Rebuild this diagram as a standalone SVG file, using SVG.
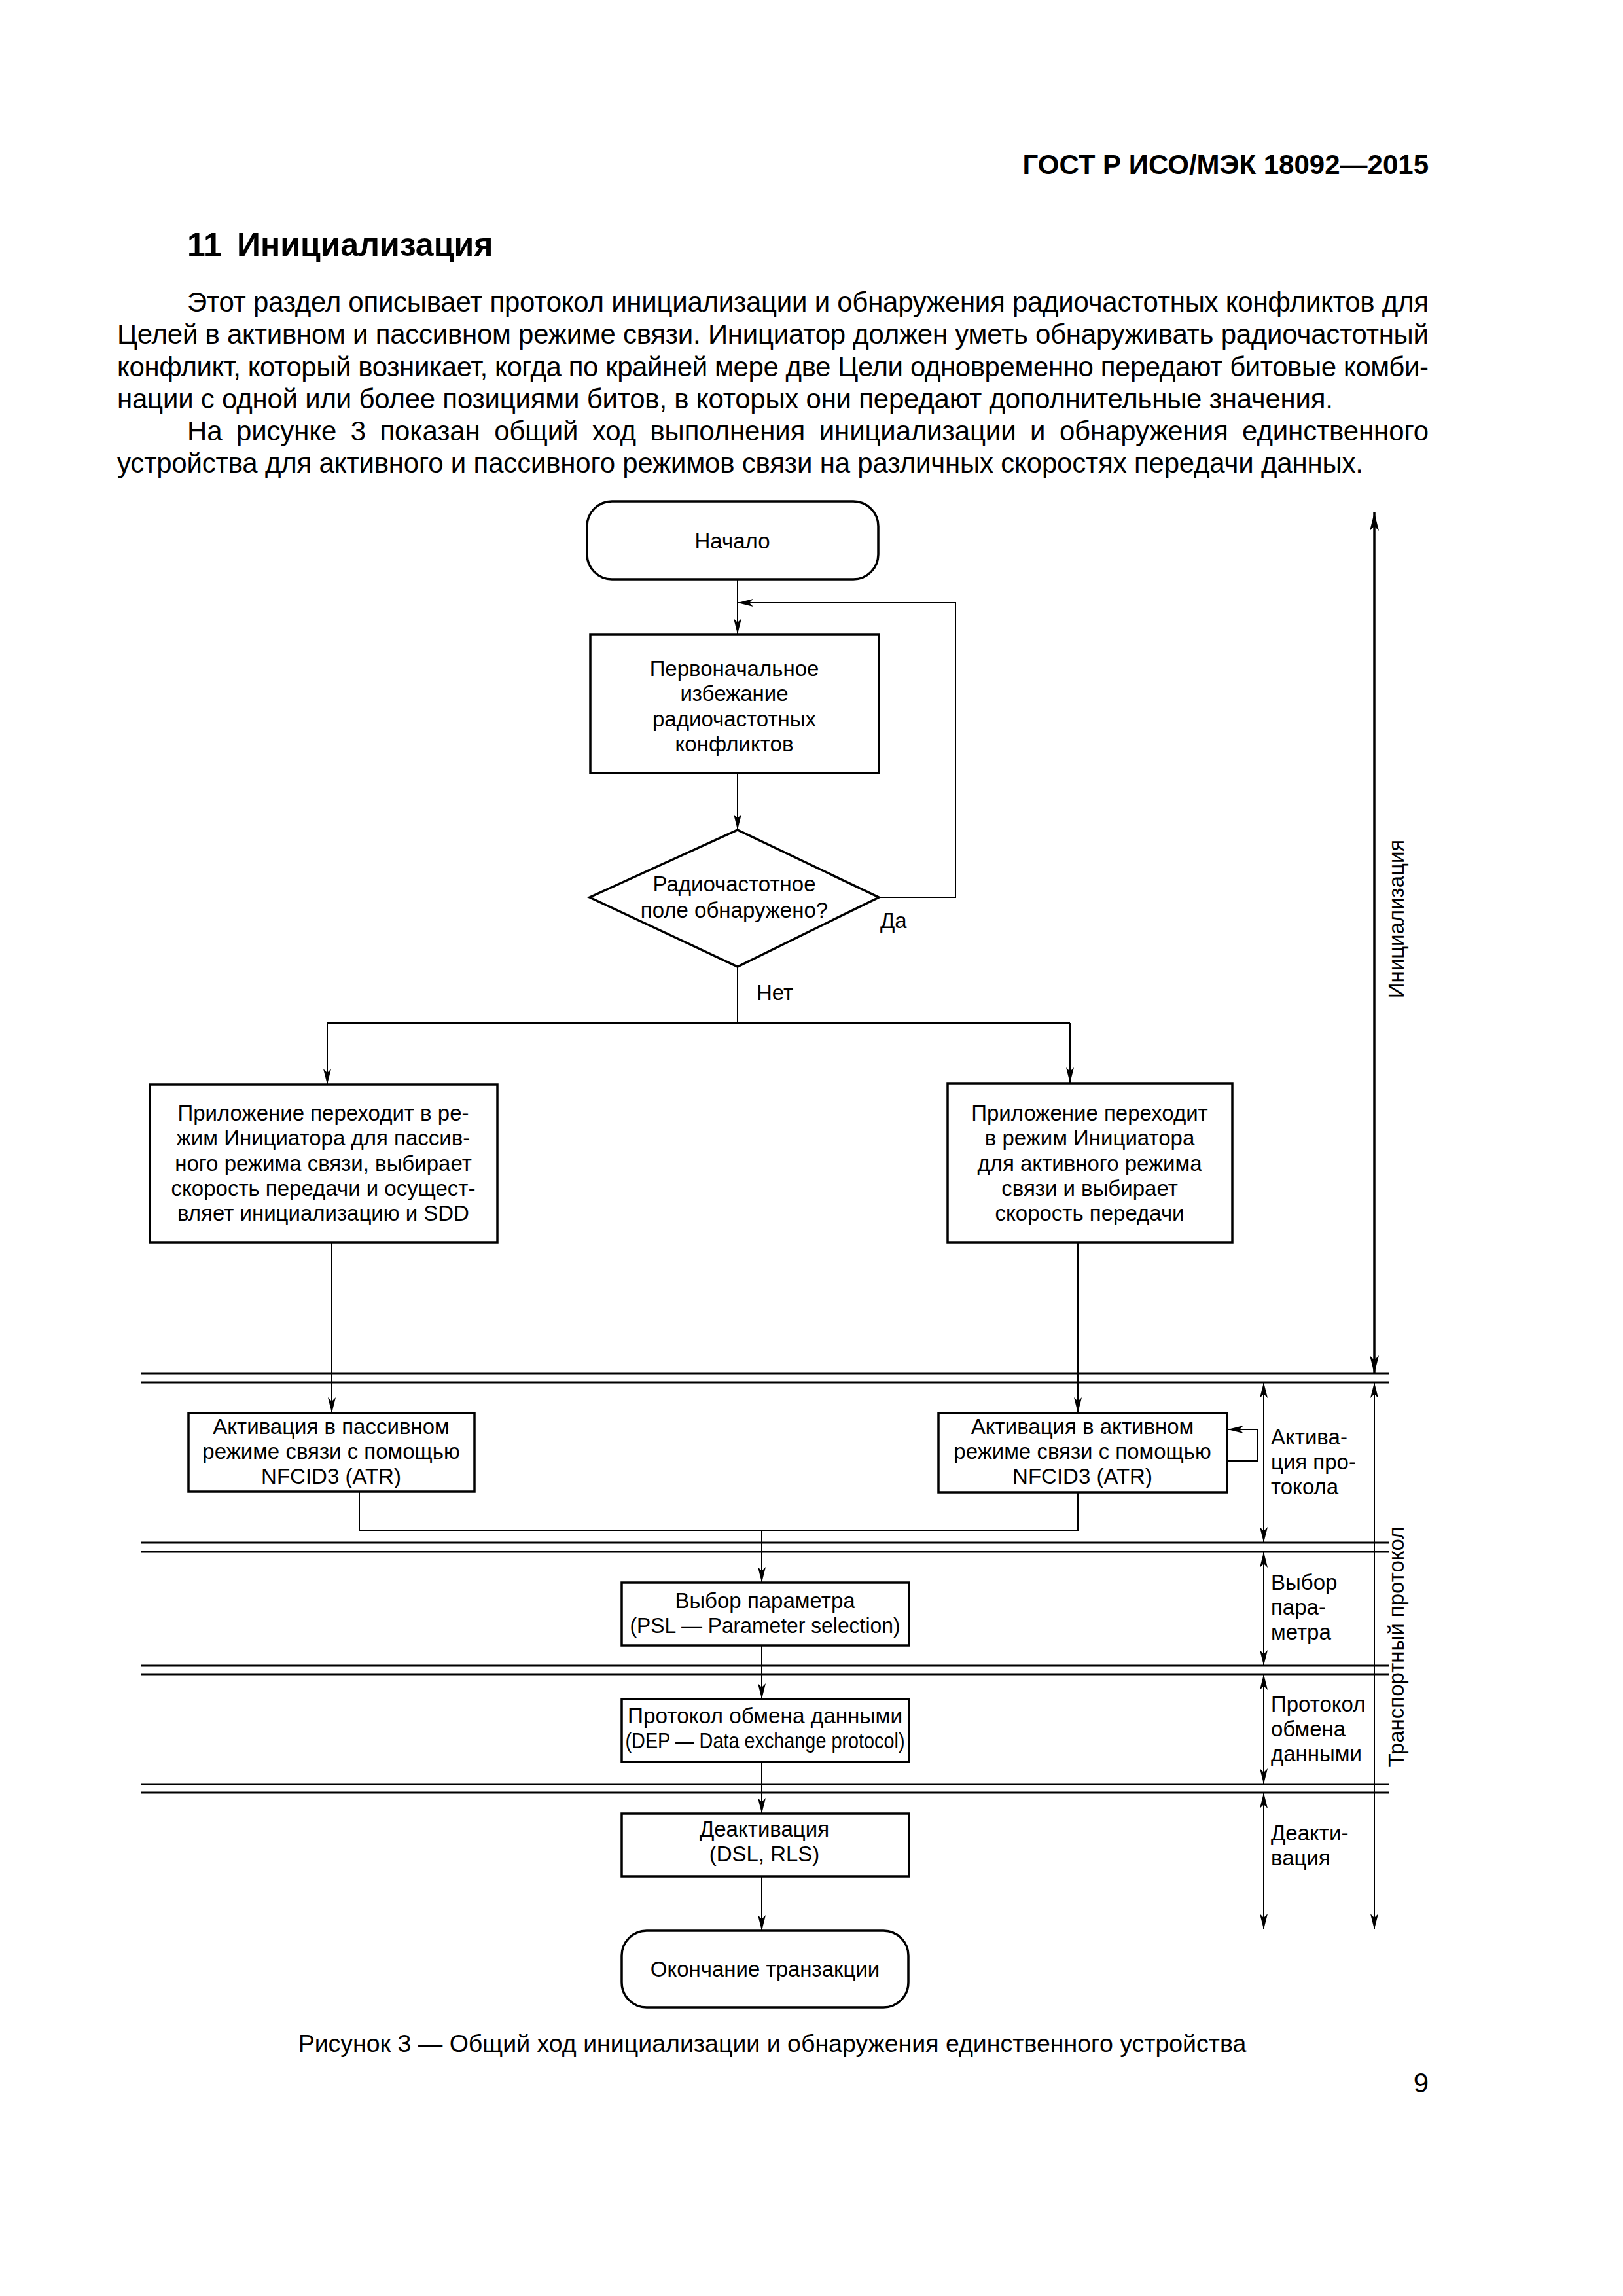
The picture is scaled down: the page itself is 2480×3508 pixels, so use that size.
<svg xmlns="http://www.w3.org/2000/svg" width="2480" height="3508" viewBox="0 0 2480 3508">
<style>
text{font-family:"Liberation Sans",Arial,sans-serif;fill:#000}
.body{font-size:42px}
.cap{font-size:37.5px;text-anchor:middle}
.hdr{font-size:42px;font-weight:bold}
.h1{font-size:50px;font-weight:bold}
.t{font-size:33px;text-anchor:middle}
.lbl{font-size:33px}
.box{fill:#fff;stroke:#000;stroke-width:3.5}
.ln{fill:none;stroke:#000;stroke-width:2}
.sep{fill:none;stroke:#000;stroke-width:3}
.dim{fill:none;stroke:#000;stroke-width:2}
.dimb{fill:none;stroke:#000;stroke-width:3.5}
</style>
<defs>
<marker id="ah" viewBox="0 0 24 12" refX="24" refY="6" markerWidth="24" markerHeight="12" markerUnits="userSpaceOnUse" orient="auto-start-reverse">
<path d="M0,0 L24,6 L0,12 L6,6 z" fill="#000"/>
</marker>
<marker id="ahb" viewBox="0 0 28 14" refX="28" refY="7" markerWidth="28" markerHeight="14" markerUnits="userSpaceOnUse" orient="auto-start-reverse">
<path d="M0,0 L28,7 L0,14 L7,7 z" fill="#000"/>
</marker>
</defs>
<rect width="2480" height="3508" fill="#fff"/>

<g id="page-text">
<text class="hdr" x="2183" y="266" text-anchor="end">ГОСТ Р ИСО/МЭК 18092—2015</text>
<text class="h1" x="286" y="391">11<tspan x="362">Инициализация</tspan></text>
<text class="body" x="286" y="476" textLength="1897" lengthAdjust="spacing">Этот раздел описывает протокол инициализации и обнаружения радиочастотных конфликтов для</text>
<text class="body" x="179" y="525" textLength="2004" lengthAdjust="spacing">Целей в активном и пассивном режиме связи. Инициатор должен уметь обнаруживать радиочастотный</text>
<text class="body" x="179" y="575" textLength="2004" lengthAdjust="spacing">конфликт, который возникает, когда по крайней мере две Цели одновременно передают битовые комби-</text>
<text class="body" x="179" y="624" textLength="1858" lengthAdjust="spacing">нации с одной или более позициями битов, в которых они передают дополнительные значения.</text>
<text class="body" x="286" y="673" word-spacing="10" textLength="1897" lengthAdjust="spacing">На рисунке 3 показан общий ход выполнения инициализации и обнаружения единственного</text>
<text class="body" x="179" y="722" textLength="1904" lengthAdjust="spacing">устройства для активного и пассивного режимов связи на различных скоростях передачи данных.</text>
<text class="cap" x="1180" y="3135">Рисунок 3 — Общий ход инициализации и обнаружения единственного устройства</text>
<text class="body" x="2183" y="3197" text-anchor="end">9</text>
</g>

<g id="connectors">
<path class="ln" d="M1127,885 V969" marker-end="url(#ah)"/>
<path class="ln" d="M1127,1181 V1268" marker-end="url(#ah)"/>
<path class="ln" d="M1343,1371 H1460 V921 H1127" marker-end="url(#ah)"/>
<path class="ln" d="M1127,1477 V1563"/>
<path class="ln" d="M500,1563 H1635"/>
<path class="ln" d="M500,1563 V1657" marker-end="url(#ah)"/>
<path class="ln" d="M1635,1563 V1655" marker-end="url(#ah)"/>
<path class="ln" d="M507,1898 V2159" marker-end="url(#ah)"/>
<path class="ln" d="M1647,1898 V2159" marker-end="url(#ah)"/>
<path class="ln" d="M1875,2232 H1921 V2184 H1876" marker-end="url(#ah)"/>
<path class="ln" d="M549,2279 V2338 H1647 V2280"/>
<path class="ln" d="M1164,2338 V2418" marker-end="url(#ah)"/>
<path class="ln" d="M1164,2514 V2596" marker-end="url(#ah)"/>
<path class="ln" d="M1164,2692 V2771" marker-end="url(#ah)"/>
<path class="ln" d="M1164,2867 V2950" marker-end="url(#ah)"/>
</g>

<g id="separators">
<path class="sep" d="M215,2099 H2123 M215,2112 H2123"/>
<path class="sep" d="M215,2357 H2123 M215,2371 H2123"/>
<path class="sep" d="M215,2545 H2123 M215,2558 H2123"/>
<path class="sep" d="M215,2726 H2123 M215,2739 H2123"/>
</g>

<g id="dimensions">
<path class="dimb" d="M2100,783 V2099" marker-start="url(#ahb)" marker-end="url(#ahb)"/>
<path class="dim" d="M2100,2112 V2948" marker-start="url(#ah)" marker-end="url(#ah)"/>
<path class="dim" d="M1931,2112 V2357" marker-start="url(#ah)" marker-end="url(#ah)"/>
<path class="dim" d="M1931,2371 V2545" marker-start="url(#ah)" marker-end="url(#ah)"/>
<path class="dim" d="M1931,2558 V2726" marker-start="url(#ah)" marker-end="url(#ah)"/>
<path class="dim" d="M1931,2739 V2948" marker-start="url(#ah)" marker-end="url(#ah)"/>
<text class="t" transform="translate(2145,1404) rotate(-90)">Инициализация</text>
<text class="t" transform="translate(2145,2516) rotate(-90)">Транспортный протокол</text>
<text class="lbl" x="1942" y="2207">Актива-</text>
<text class="lbl" x="1942" y="2245">ция про-</text>
<text class="lbl" x="1942" y="2283">токола</text>
<text class="lbl" x="1942" y="2429">Выбор</text>
<text class="lbl" x="1942" y="2467">пара-</text>
<text class="lbl" x="1942" y="2505">метра</text>
<text class="lbl" x="1942" y="2615">Протокол</text>
<text class="lbl" x="1942" y="2653">обмена</text>
<text class="lbl" x="1942" y="2691">данными</text>
<text class="lbl" x="1942" y="2812">Деакти-</text>
<text class="lbl" x="1942" y="2850">вация</text>
</g>

<g id="start">
<rect class="box" x="897" y="766" width="445" height="119" rx="38"/>
<text class="t" x="1119" y="838">Начало</text>
</g>

<g id="avoid">
<rect class="box" x="902" y="969" width="441" height="212"/>
<text class="t" x="1122" y="1033">Первоначальное</text>
<text class="t" x="1122" y="1071">избежание</text>
<text class="t" x="1122" y="1110">радиочастотных</text>
<text class="t" x="1122" y="1148">конфликтов</text>
</g>

<g id="decision">
<polygon class="box" points="1127,1268 1343,1371 1127,1477 901,1371"/>
<text class="t" x="1122" y="1362">Радиочастотное</text>
<text class="t" x="1122" y="1402">поле обнаружено?</text>
<text class="lbl" x="1345" y="1418">Да</text>
<text class="lbl" x="1156" y="1528">Нет</text>
</g>

<g id="passive-init">
<rect class="box" x="229" y="1657" width="531" height="241"/>
<text class="t" x="494" y="1712">Приложение переходит в ре-</text>
<text class="t" x="494" y="1750">жим Инициатора для пассив-</text>
<text class="t" x="494" y="1789">ного режима связи, выбирает</text>
<text class="t" x="494" y="1827">скорость передачи и осущест-</text>
<text class="t" x="494" y="1865">вляет инициализацию и SDD</text>
</g>

<g id="active-init">
<rect class="box" x="1448" y="1655" width="435" height="243"/>
<text class="t" x="1665" y="1712">Приложение переходит</text>
<text class="t" x="1665" y="1750">в режим Инициатора</text>
<text class="t" x="1665" y="1789">для активного режима</text>
<text class="t" x="1665" y="1827">связи и выбирает</text>
<text class="t" x="1665" y="1865">скорость передачи</text>
</g>

<g id="passive-act">
<rect class="box" x="288" y="2159" width="437" height="120"/>
<text class="t" x="506" y="2191">Активация в пассивном</text>
<text class="t" x="506" y="2229">режиме связи с помощью</text>
<text class="t" x="506" y="2267">NFCID3 (ATR)</text>
</g>

<g id="active-act">
<rect class="box" x="1434" y="2159" width="441" height="121"/>
<text class="t" x="1654" y="2191">Активация в активном</text>
<text class="t" x="1654" y="2229">режиме связи с помощью</text>
<text class="t" x="1654" y="2267">NFCID3 (ATR)</text>
</g>

<g id="psl">
<rect class="box" x="950" y="2418" width="439" height="96"/>
<text class="t" x="1169" y="2457">Выбор параметра</text>
<text class="t" x="1169" y="2495" textLength="413" lengthAdjust="spacingAndGlyphs">(PSL — Parameter selection)</text>
</g>

<g id="dep">
<rect class="box" x="950" y="2596" width="439" height="96"/>
<text class="t" x="1169" y="2633" textLength="420" lengthAdjust="spacingAndGlyphs">Протокол обмена данными</text>
<text class="t" x="1169" y="2671" textLength="427" lengthAdjust="spacingAndGlyphs">(DEP — Data exchange protocol)</text>
</g>

<g id="deact">
<rect class="box" x="950" y="2771" width="439" height="96"/>
<text class="t" x="1168" y="2806">Деактивация</text>
<text class="t" x="1168" y="2844">(DSL, RLS)</text>
</g>

<g id="end">
<rect class="box" x="950" y="2950" width="438" height="117" rx="38"/>
<text class="t" x="1169" y="3020">Окончание транзакции</text>
</g>
</svg>
